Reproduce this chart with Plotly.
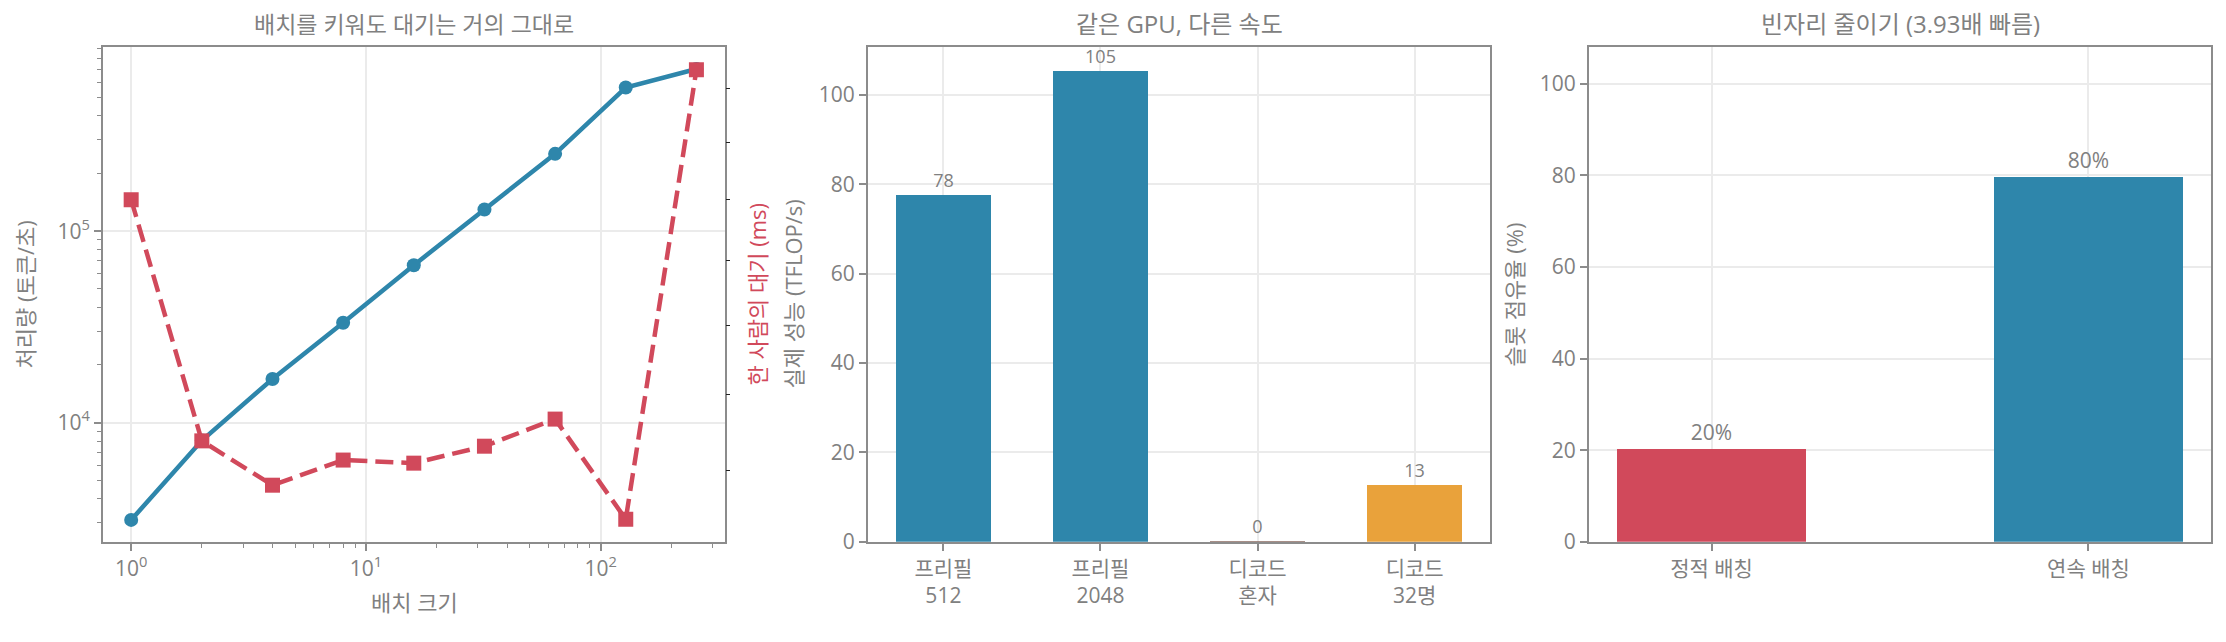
import math
import plotly.graph_objects as go

# 배치 크기별 처리량 / 지연
batch = [1, 2, 4, 8, 16, 32, 64, 128, 256]
throughput = [3100, 8050, 16900, 33200, 66400, 129700, 253500, 563000, 703000]
latency_ms = [16.0, 12.38, 11.81, 12.13, 12.09, 12.31, 12.67, 11.39, 18.37]

# 단계별 실제 성능
phases = ["프리필<br>512", "프리필<br>2048", "디코드<br>혼자", "디코드<br>32명"]
tflops = [77.6, 105.4, 0.15, 12.6]

# 슬롯 점유율
modes = ["정적 배칭", "연속 배칭"]
slot_use = [20.3, 79.7]

# 축 눈금
x_major = [1, 10, 100]
x_major_text = ["10<sup>0</sup>", "10<sup>1</sup>", "10<sup>2</sup>"]
x_minor = [2, 3, 4, 5, 6, 7, 8, 9, 20, 30, 40, 50, 60, 70, 80, 90, 200, 300]
y_major = [1e4, 1e5]
y_major_text = ["10<sup>4</sup>", "10<sup>5</sup>"]
y_minor = [3000, 4000, 5000, 6000, 7000, 8000, 9000,
           20000, 30000, 40000, 50000, 60000, 70000, 80000, 90000,
           200000, 300000, 400000, 500000, 600000, 700000, 800000, 900000]
lat_ticks = [12, 13, 14, 15, 16, 17, 18]

BLUE = "#2E86AB"
RED = "#D1495B"
ORANGE = "#E9A23B"
GRAY = "#808080"
SPINE = "#8c8c8c"
GRID = "#ebebeb"
FONT = "Open Sans, Noto Sans CJK KR"

W, H = 2226, 642
def px(x):
    return x / W
def py(y):
    return 1 - y / H

dom_y = [py(553), py(48)]
dom1 = [px(103), px(725)]
dom2 = [px(868), px(1490)]
dom3 = [px(1589), px(2211)]

fig = go.Figure()

fig.add_trace(go.Scatter(
    x=batch, y=throughput, mode="lines+markers",
    line=dict(color=BLUE, width=4.5),
    marker=dict(symbol="circle", size=14, color=BLUE),
    xaxis="x", yaxis="y", showlegend=False))

fig.add_trace(go.Scatter(
    x=batch, y=latency_ms, mode="lines+markers",
    line=dict(color=RED, width=4.5, dash="18px,8px"),
    marker=dict(symbol="square", size=15, color=RED),
    xaxis="x", yaxis="y2", showlegend=False))

fig.add_trace(go.Bar(
    x=phases, y=tflops, width=0.6,
    marker=dict(color=[BLUE, BLUE, "#8a6a60", ORANGE], line=dict(width=0)),
    texttemplate="%{y:.0f}", textposition="outside", constraintext="none",
    textfont=dict(size=18, color=GRAY), cliponaxis=False,
    xaxis="x2", yaxis="y3", showlegend=False))

fig.add_trace(go.Bar(
    x=modes, y=slot_use, width=0.5,
    marker=dict(color=[RED, BLUE], line=dict(width=0)),
    texttemplate="%{y:.0f}%", textposition="outside", constraintext="none",
    textfont=dict(size=21, color=GRAY), cliponaxis=False,
    xaxis="x3", yaxis="y4", showlegend=False))

common = dict(showline=True, linecolor=SPINE, linewidth=2, mirror=True,
              ticks="outside", ticklen=7, tickwidth=1.5, tickcolor=SPINE,
              showgrid=True, gridcolor=GRID, gridwidth=1.5, zeroline=False,
              tickfont=dict(size=21, color=GRAY))
minor = dict(tickmode="array", ticks="outside", ticklen=4, tickwidth=1.2,
             tickcolor=SPINE, showgrid=False)

fig.update_layout(
    width=W, height=H,
    margin=dict(l=0, r=0, t=0, b=0),
    paper_bgcolor="white", plot_bgcolor="white",
    font=dict(family=FONT, color=GRAY),
    bargap=0,
    xaxis=dict(common, domain=dom1, anchor="y", type="log",
               range=[-0.12, 2.53], tickmode="array",
               tickvals=x_major, ticktext=x_major_text,
               minor=dict(minor, tickvals=x_minor)),
    yaxis=dict(common, domain=dom_y, anchor="x", type="log",
               range=[3.377, 5.962], tickmode="array",
               tickvals=y_major, ticktext=y_major_text,
               minor=dict(minor, tickvals=y_minor)),
    yaxis2=dict(overlaying="y", anchor="x", side="right", type="log",
                range=[math.log10(11.12), math.log10(18.82)],
                tickmode="array", tickvals=lat_ticks, showticklabels=False,
                ticks="outside", ticklen=4, tickwidth=1.2, tickcolor="#222222",
                showgrid=False, showline=False, zeroline=False),
    xaxis2=dict(common, domain=dom2, anchor="y3", type="category",
                range=[-0.48, 3.48]),
    yaxis3=dict(common, domain=dom_y, anchor="x2", range=[0, 110.67],
                dtick=20),
    xaxis3=dict(common, domain=dom3, anchor="y4", type="category",
                range=[-0.325, 1.325]),
    yaxis4=dict(common, domain=dom_y, anchor="x3", range=[0, 108],
                dtick=20),
)

def label(text, x, y, size, color=GRAY, angle=0):
    fig.add_annotation(text=text, x=x, y=y, xref="paper", yref="paper",
                       showarrow=False, textangle=angle,
                       xanchor="center", yanchor="middle",
                       font=dict(family=FONT, size=size, color=color))

mid_y = py(300.5)
label("배치를 키워도 대기는 거의 그대로", (dom1[0] + dom1[1]) / 2, py(24), 23)
label("같은 GPU, 다른 속도", (dom2[0] + dom2[1]) / 2, py(24), 24)
label("빈자리 줄이기 (3.93배 빠름)", (dom3[0] + dom3[1]) / 2, py(24), 24)
label("배치 크기", (dom1[0] + dom1[1]) / 2, py(614), 22)
label("처리량 (토큰/초)", px(25), mid_y, 22, angle=-90)
label("한 사람의 대기 (ms)", px(757), mid_y, 22, color=RED, angle=-90)
label("실제 성능 (TFLOP/s)", px(793), mid_y, 22, angle=-90)
label("슬롯 점유율 (%)", px(1514), mid_y, 22, angle=-90)

fig.write_html("out.html", config={"displayModeBar": False},
               post_script="document.body.style.margin='0px';")
